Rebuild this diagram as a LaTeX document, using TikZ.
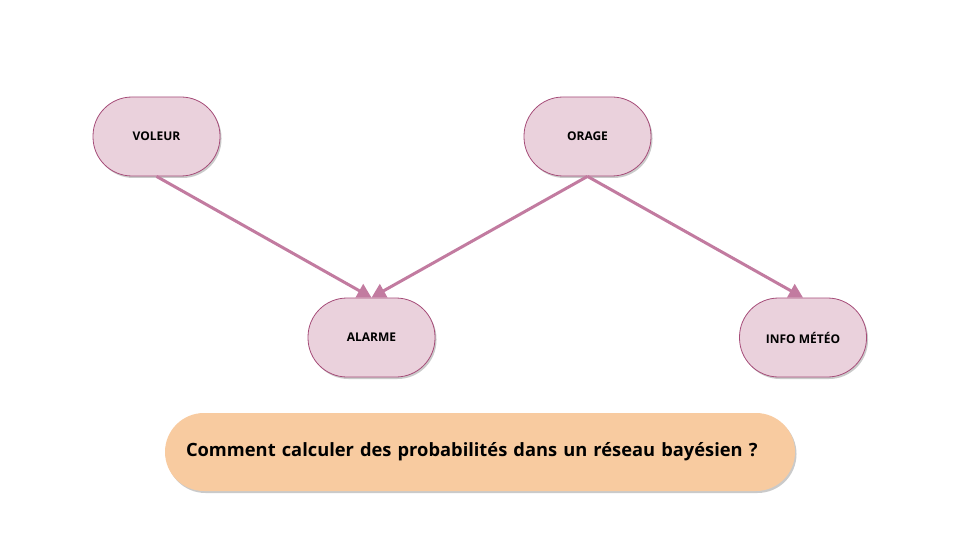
\documentclass[tikz,border=0pt]{standalone}
\usepackage{fontspec}
\setmainfont{Open Sans}
\usetikzlibrary{arrows.meta,shadows}
\definecolor{nodefill}{HTML}{EAD1DC}
\definecolor{nodeborder}{HTML}{A64D79}
\definecolor{arrowcol}{HTML}{C27BA0}
\definecolor{qfill}{HTML}{F8CBA0}
\begin{document}
\begin{tikzpicture}[x=1pt,y=-1pt,
  varnode/.style={draw=nodeborder, line width=0.8pt, fill=nodefill, rounded corners=39pt,
    minimum width=127pt, minimum height=79pt, inner sep=0pt,
    font=\fontsize{12}{14}\selectfont\bfseries,
    drop shadow={shadow xshift=1.5pt, shadow yshift=-2pt, opacity=0.35, fill=black!60}},
  qnode/.style={fill=qfill, rounded corners=39pt, minimum width=630pt, minimum height=78pt,
    inner sep=0pt, text width=588pt, align=left,
    font=\fontsize{18.3}{21}\selectfont\bfseries,
    drop shadow={shadow xshift=1.5pt, shadow yshift=-2pt, opacity=0.35, fill=black!60}},
  link/.style={draw=arrowcol, line width=3pt, -{Triangle[length=14pt, width=15pt]}}]
\useasboundingbox (0,0) rectangle (960,540);
\node[varnode] (voleur) at (156.5,136.5) {VOLEUR};
\node[varnode] (orage) at (587.5,136.5) {ORAGE};
\node[varnode] (alarme) at (371.5,337.5) {ALARME};
\node[varnode] (info) at (803,337.5) {INFO MÉTÉO};
\node[qnode] (q) at (480,452) {Comment calculer des probabilités dans un réseau bayésien ?};
\draw[link] (voleur.south) -- (alarme.north);
\draw[link] (orage.south) -- (alarme.north);
\draw[link] (orage.south) -- (info.north);
\end{tikzpicture}
\end{document}
